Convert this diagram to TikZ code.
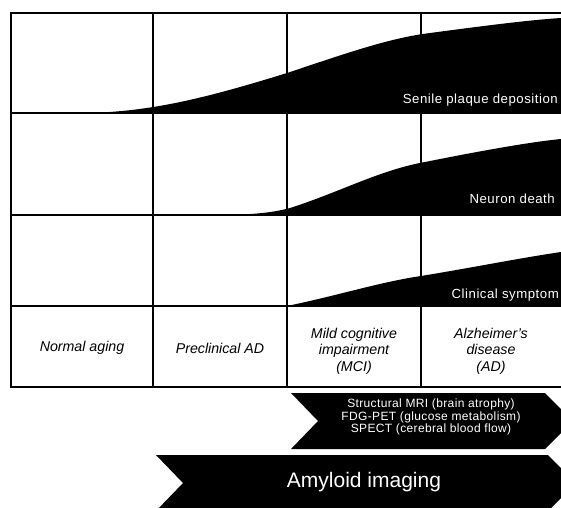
\documentclass[tikz,border=0pt]{standalone}
\usepackage{fontspec}
\setmainfont{Liberation Sans}
\usetikzlibrary{positioning}

\begin{document}
\begin{tikzpicture}[
  x=1pt, y=-1pt,
  frame/.style={line width=2.6pt, line cap=rect},
  rule/.style={line width=1.3pt},
  stage/.style={align=center, inner sep=0pt,
                font=\fontsize{14.2}{16.5}\selectfont\itshape},
  curvelbl/.style={anchor=base east, text=white, inner sep=0pt,
                   font=\fontsize{13.2}{14}\selectfont\addfontfeature{LetterSpace=4}},
  modal/.style={align=center, text=white, inner sep=0pt,
                font=\fontsize{12}{10}\selectfont\addfontfeature{LetterSpace=3}},
  chev/.style={fill=black},
]
  \useasboundingbox (0,0) rectangle (561,507);
  \clip (0,0) rectangle (561,507);

  % curves
  \fill (11,113) -- (90,113) .. controls (150,111) and (200,100) .. (287,73)
        .. controls (350,52) and (390,38) .. (430,33)
        .. controls (490,25) and (530,20) .. (561,18) -- (561,113) -- cycle;
  \fill (153,215) -- (230,215) .. controls (260,214) and (275,212) .. (290,208)
        .. controls (340,192) and (380,170) .. (425,162)
        .. controls (480,151) and (530,142) .. (561,139) -- (561,215) -- cycle;
  \fill (287,306) .. controls (340,295) and (380,282) .. (421,276)
        .. controls (470,268) and (520,258) .. (561,252) -- (561,306) -- cycle;

  % grid
  \foreach \xx in {153,287,421}
    \draw[rule] (\xx,13) -- (\xx,387);
  \foreach \yy in {113,215,306}
    \draw[rule] (11,\yy) -- (561,\yy);
  \draw[frame] (570,13) -- (11,13) -- (11,387) -- (570,387);

  \node[curvelbl] (plaque) at (558,103) {Senile plaque deposition};
  \node[curvelbl] (neuron) at (555,203) {Neuron death};
  \node[curvelbl] (symptom) at (559,298) {Clinical symptom};

  \node[stage] (normal) at (82,348) {Normal aging};
  \node[stage] (precl) at (220,348) {Preclinical AD};
  \node[stage] (mci) at (354,351) {Mild cognitive\\impairment\\(MCI)};
  \node[stage] (ad) at (491,351) {Alzheimer’s\\disease\\(AD)};

  % imaging arrows
  \fill[chev] (291,393) -- (545,393) -- (573,421) -- (545,449) -- (291,449) -- (318,421) -- cycle;
  \fill[chev] (156,455) -- (548,455) -- (576,483) -- (548,511) -- (156,511) -- (183,483) -- cycle;

  \node[modal] (modal) at (431,417) {Structural MRI (brain atrophy)\\FDG-PET (glucose metabolism)\\SPECT (cerebral blood flow)};
  \node[text=white, font=\fontsize{21}{24}\selectfont] (amyloid) at (364,482) {Amyloid imaging};
\end{tikzpicture}
\end{document}
